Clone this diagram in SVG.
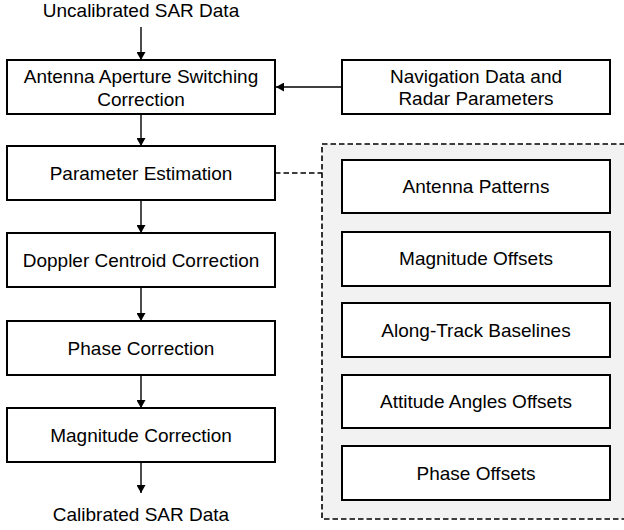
<svg xmlns="http://www.w3.org/2000/svg" width="624" height="530" viewBox="0 0 624 530">
<style>
text{font-family:"Liberation Sans",Arial,sans-serif;font-size:19px;fill:#000;text-anchor:middle}
.box{fill:#fff;stroke:#000;stroke-width:2}
.ln{stroke:#000;stroke-width:1.4;fill:none}
.dash{stroke:#000;stroke-width:1.6;fill:none;stroke-dasharray:5.5 3}
</style>
<defs>
<marker id="ah" markerWidth="8" markerHeight="9" refX="8" refY="4.5" orient="auto" markerUnits="userSpaceOnUse">
<path d="M0,0 L8,4.5 L0,9 Z" fill="#000"/>
</marker>
</defs>
<rect id="group-box" x="322" y="144" width="305" height="375" fill="#f2f2f2" stroke="#000" stroke-width="1.6" stroke-dasharray="5.5 3"/>
<g id="connectors">
<line class="ln" x1="141" y1="27" x2="141" y2="60" marker-end="url(#ah)"/>
<line class="ln" x1="342" y1="87" x2="276" y2="87" marker-end="url(#ah)"/>
<line class="ln" x1="141" y1="114" x2="141" y2="146" marker-end="url(#ah)"/>
<line class="ln" x1="141" y1="200" x2="141" y2="233" marker-end="url(#ah)"/>
<line class="ln" x1="141" y1="287" x2="141" y2="321" marker-end="url(#ah)"/>
<line class="ln" x1="141" y1="375" x2="141" y2="408" marker-end="url(#ah)"/>
<line class="ln" x1="141" y1="462" x2="141" y2="493" marker-end="url(#ah)"/>
<line class="dash" x1="275" y1="173" x2="322" y2="173"/>
</g>
<g id="in-label"><text x="141" y="17">Uncalibrated SAR Data</text></g>
<g id="out-label"><text x="141" y="521">Calibrated SAR Data</text></g>
<g id="aas"><rect class="box" x="7" y="60" width="268" height="54"/><text x="141" y="83">Antenna Aperture Switching</text><text x="141" y="106">Correction</text></g>
<g id="nav"><rect class="box" x="342" y="60" width="268" height="54"/><text x="476" y="83">Navigation Data and</text><text x="476" y="105">Radar Parameters</text></g>
<g id="pe"><rect class="box" x="7" y="146" width="268" height="54"/><text x="141" y="180">Parameter Estimation</text></g>
<g id="dcc"><rect class="box" x="7" y="233" width="268" height="54"/><text x="141" y="267">Doppler Centroid Correction</text></g>
<g id="pc"><rect class="box" x="7" y="321" width="268" height="54"/><text x="141" y="355">Phase Correction</text></g>
<g id="mc"><rect class="box" x="7" y="408" width="268" height="54"/><text x="141" y="442">Magnitude Correction</text></g>
<g id="ap"><rect class="box" x="342" y="160" width="268" height="53"/><text x="476" y="193">Antenna Patterns</text></g>
<g id="mo"><rect class="box" x="342" y="232" width="268" height="54"/><text x="476" y="265">Magnitude Offsets</text></g>
<g id="atb"><rect class="box" x="342" y="303" width="268" height="54"/><text x="476" y="337">Along-Track Baselines</text></g>
<g id="aao"><rect class="box" x="342" y="375" width="268" height="53"/><text x="476" y="408">Attitude Angles Offsets</text></g>
<g id="po"><rect class="box" x="342" y="446" width="268" height="54"/><text x="476" y="480">Phase Offsets</text></g>
</svg>
